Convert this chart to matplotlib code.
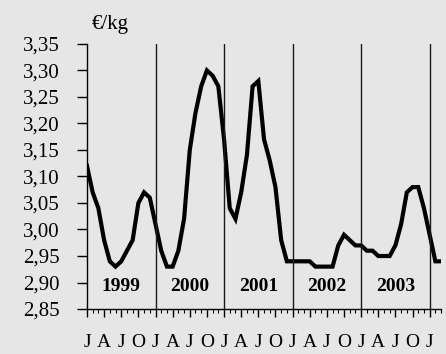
import numpy as np
import matplotlib
matplotlib.use("Agg")
import matplotlib.pyplot as plt
from matplotlib.ticker import FuncFormatter, MultipleLocator

plt.rcParams['font.family'] = ['Liberation Serif', 'DejaVu Serif']

# monthly prices, Jan 1999 .. Mar 2004 (EUR/kg)
prices = [3.12, 3.07, 3.04, 2.98, 2.94, 2.93, 2.94, 2.96, 2.98, 3.05, 3.07, 3.06,
          3.01, 2.96, 2.93, 2.93, 2.96, 3.02, 3.15, 3.22, 3.27, 3.30, 3.29, 3.27,
          3.17, 3.04, 3.02, 3.07, 3.14, 3.27, 3.28, 3.17, 3.13, 3.08, 2.98, 2.94,
          2.94, 2.94, 2.94, 2.94, 2.93, 2.93, 2.93, 2.93, 2.97, 2.99, 2.98, 2.97,
          2.97, 2.96, 2.96, 2.95, 2.95, 2.95, 2.97, 3.01, 3.07, 3.08, 3.08, 3.04,
          2.99, 2.94, 2.94]
years = ['1999', '2000', '2001', '2002', '2003']
month_letters = ['J', 'A', 'J', 'O']

months = np.arange(len(prices))
bg = '#e6e6e6'

fig = plt.figure(figsize=(4.46, 3.54), dpi=100, facecolor=bg)
ax = fig.add_axes([0.195, 0.127, 0.794, 0.749], facecolor=bg)

ax.plot(months, prices, color='black', lw=3.0, solid_joinstyle='miter')

for i, yr in enumerate(years):
    if i > 0:
        ax.axvline(12 * i, color='#1a1a1a', lw=1.0)
    ax.text(12 * i + 6, 2.892, yr, ha='center', va='center',
            fontsize=14, fontweight='bold')
ax.axvline(60, color='#1a1a1a', lw=1.0)

ax.set_xlim(0, 62)
ax.set_ylim(2.85, 3.35)
ax.set_yticks(np.arange(2.85, 3.351, 0.05))
ax.yaxis.set_major_formatter(FuncFormatter(lambda v, p: f'{v:.2f}'.replace('.', ',')))

ax.set_xticks(np.arange(0, 61, 3))
ax.set_xticklabels([month_letters[k % 4] for k in range(21)])
ax.xaxis.set_minor_locator(MultipleLocator(1))

for s in ['top', 'right']:
    ax.spines[s].set_visible(False)
ax.spines['left'].set_linewidth(1.0)
ax.spines['bottom'].set_linewidth(1.0)

ax.tick_params(axis='y', direction='out', length=7.5, width=1.0, labelsize=15, pad=12)
ax.tick_params(axis='x', which='major', direction='out', length=6, width=1.0,
               labelsize=14, pad=12)
ax.tick_params(axis='x', which='minor', direction='out', length=3, width=0.8)

fig.text(110 / 446, 1 - 25 / 354, '€/kg', ha='center', va='center', fontsize=15)

fig.savefig('out.png', dpi=100, facecolor=bg)
